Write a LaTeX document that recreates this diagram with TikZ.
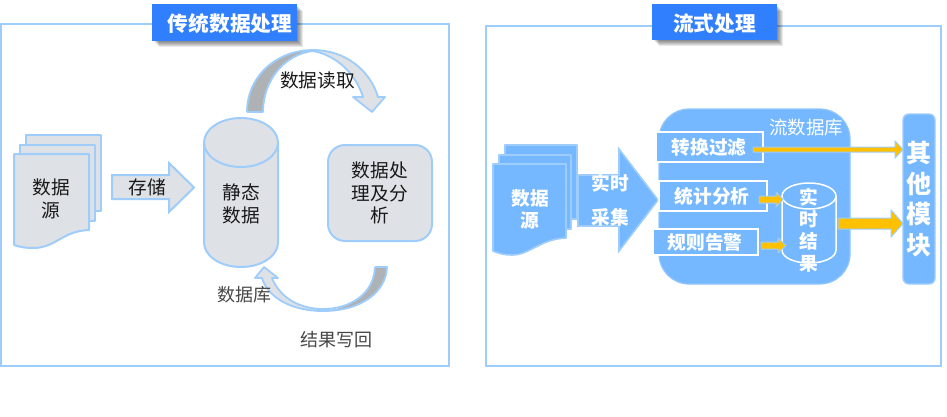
\documentclass[tikz,border=0pt]{standalone}
\usepackage{fontspec}
\setmainfont{Noto Sans CJK SC}
\definecolor{edgeblue}{HTML}{9FCDFB}
\definecolor{panelgrey}{HTML}{DEE1E5}
\definecolor{darkgrey}{HTML}{AEB2B5}
\definecolor{titleblue}{HTML}{2F7FFF}
\definecolor{streamblue}{HTML}{75B8FF}
\definecolor{amber}{HTML}{FFC000}
\tikzset{
  panel/.style={draw=edgeblue,line width=2pt,fill=white},
  greyshape/.style={draw=edgeblue,line width=2pt,fill=panelgrey,line join=round},
  blueshape/.style={draw=edgeblue,line width=1.6pt,fill=streamblue,line join=round},
  whitebox/.style={draw=white,line width=1.6pt,fill=streamblue},
  amberarrow/.style={draw=edgeblue,line width=1pt,fill=amber,line join=miter},
  titlebox/.style={fill=titleblue},
  bandline/.style={draw=edgeblue,line width=1.8pt,line join=round},
  darktext/.style={inner sep=0pt,align=center,text=black!90,font=\fontsize{18.7}{22.5}\selectfont},
  softtext/.style={inner sep=0pt,align=center,text=black!72,font=\fontsize{18}{22}\selectfont},
  whitetext/.style={inner sep=0pt,align=center,text=white,font=\fontsize{18.7}{22}\selectfont\bfseries},
}
\begin{document}
\begin{tikzpicture}[x=1pt,y=-1pt]
\useasboundingbox (0,0) rectangle (947,416);
% panels
\draw[panel] (1,24) rectangle (449,366);
\draw[panel] (486,26) rectangle (941,366);
% title shadows
\foreach \d in {1,...,7}{
  \fill[black,opacity=0.09] (152+\d,4+\d) rectangle (297+\d-1,41+\d-1);
  \fill[black,opacity=0.09] (652+\d,4+\d) rectangle (777+\d-1,40+\d-1);
}
\fill[titlebox] (152,4) rectangle (297,41);
\fill[titlebox] (652,4) rectangle (777,40);
\node[whitetext,font=\fontsize{20.7}{24}\selectfont\bfseries] (titleL) at (230,24) {传统数据处理};
\node[whitetext,font=\fontsize{20.7}{24}\selectfont\bfseries] (titleR) at (714.5,24) {流式处理};
% left documents
\draw[greyshape] (26,135) rectangle (101,211);
\draw[greyshape] (20,145) rectangle (95,221);
\draw[greyshape] (14,154) -- (89,154) -- (89,230) .. controls (62,231) and (56,248) .. (33,248) .. controls (25,248) and (20,247) .. (14,245) -- cycle;
\node[darktext] (srcL) at (51,199) {数据\\源};
% store arrow
\draw[greyshape,line join=miter] (112,175) -- (169,175) -- (169,163) -- (194,187.5) -- (169,212) -- (169,199) -- (112,199) -- cycle;
\node[darktext] (store) at (147,187) {存储};
% static cylinder
\draw[greyshape] (204,142.5) -- (204,242.5) .. controls (204,256) and (220.5,267) .. (241,267) .. controls (261.5,267) and (278,256) .. (278,242.5) -- (278,142.5);
\draw[greyshape] (241,142.5) ellipse [x radius=37,y radius=24.5];
\node[darktext] (staticdata) at (241,204) {静态\\数据};
% process box
\draw[greyshape,rounded corners=17pt] (328,145) rectangle (432,241);
\node[darktext] (proc) at (380,193) {数据处\\理及分\\析};
% read arrow
\fill[darkgrey] (247,112) .. controls (247,76) and (277,50) .. (313,50) .. controls (285,54) and (263,80) .. (263,112) -- cycle;
\fill[panelgrey] (313,50) .. controls (345,50) and (370,70) .. (378,97) -- (385,97) -- (372,112) -- (353,97) -- (363,97) .. controls (355,72) and (335,55) .. (313,50) -- cycle;
\draw[bandline] (247,112) -- (263,112) .. controls (263,80) and (285,54) .. (313,51) .. controls (335,55) and (355,72) .. (363,97) -- (353,97) -- (372,112) -- (385,97) -- (378,97) .. controls (370,70) and (345,50) .. (313,50) .. controls (277,50) and (247,76) .. (247,112);
\node[darktext,font=\fontsize{18.7}{22}\selectfont] (readlbl) at (317.5,80) {数据读取};
% write-back arrow
\fill[darkgrey] (387,267) .. controls (386,293) and (360,311) .. (323,311) .. controls (350,309) and (374,294) .. (375,267) -- cycle;
\fill[panelgrey] (323,311) .. controls (300,309) and (280,298) .. (272,278) -- (278,278) -- (264,267) -- (255,278) -- (262,278) .. controls (268,298) and (292,311) .. (323,311) -- cycle;
\draw[bandline] (375,267) -- (387,267) .. controls (386,293) and (360,311) .. (323,311) .. controls (292,311) and (268,298) .. (262,278) -- (255,278) -- (264,267) -- (278,278) -- (272,278) .. controls (280,298) and (300,309) .. (323,309) .. controls (350,309) and (374,294) .. (375,267);
\node[softtext] (dblbl) at (244,295) {数据库};
\node[softtext] (wblbl) at (336,340) {结果写回};
% right documents
\draw[blueshape] (505,145) rectangle (577,219);
\draw[blueshape] (499,155) rectangle (571,229);
\draw[blueshape] (493,164) -- (566,164) -- (566,238) .. controls (540,239) and (530,255) .. (512,255) .. controls (505,255) and (500,254) .. (493,251) -- cycle;
\node[whitetext] (srcR) at (530,209) {数据\\源};
% capture arrow
\draw[blueshape,line join=miter] (578,175) -- (619,175) -- (619,149) -- (658,200) -- (619,251) -- (619,226) -- (578,226) -- cycle;
\node[whitetext] (cap1) at (610,183) {实时};
\node[whitetext] (cap2) at (610,217) {采集};
% stream db
\draw[draw=edgeblue!70!streamblue,line width=1.2pt,fill=streamblue,rounded corners=30pt] (659,109) rectangle (850,284);
\node[inner sep=0pt,text=white,font=\fontsize{18.5}{22}\selectfont] (streamdb) at (806,128) {流数据库};
\draw[whitebox] (656,132) rectangle (763,162);
\node[whitetext] (convert) at (709,147) {转换过滤};
\draw[whitebox] (659,181) rectangle (767,211);
\node[whitetext] (stats) at (712,196) {统计分析};
\draw[whitebox] (653,229) rectangle (758,255);
\node[whitetext] (alert) at (705,242) {规则告警};
% result cylinder
\draw[draw=white,line width=1.5pt] (782,196) -- (782,250) .. controls (782,257.5) and (794,263) .. (809,263) .. controls (824,263) and (836,257.5) .. (836,250) -- (836,196);
\draw[draw=white,line width=1.5pt] (809,196) ellipse [x radius=27,y radius=13];
\node[whitetext,font=\fontsize{18.7}{22}\selectfont\bfseries] (result) at (809,230) {实\\时\\结\\果};
% amber arrows
\draw[amberarrow] (753,147) -- (895,147) -- (895,141) -- (903,149.5) -- (895,158) -- (895,152) -- (753,152) -- cycle;
\draw[amberarrow] (759,196) -- (776,196) -- (776,192) -- (783,199.5) -- (776,207) -- (776,203) -- (759,203) -- cycle;
\draw[amberarrow] (761,242) -- (778,242) -- (778,238) -- (786,245.5) -- (778,253) -- (778,249) -- (761,249) -- cycle;
\draw[amberarrow] (838,218) -- (891,218) -- (891,210) -- (903,223.5) -- (891,237) -- (891,229) -- (838,229) -- cycle;
% other modules
\draw[draw=edgeblue,line width=1.4pt,fill=streamblue,rounded corners=6pt] (903,114) rectangle (935,284);
\node[whitetext,font=\fontsize{25}{30.5}\selectfont\bfseries] (other) at (919,199) {其\\他\\模\\块};
\end{tikzpicture}
\end{document}
